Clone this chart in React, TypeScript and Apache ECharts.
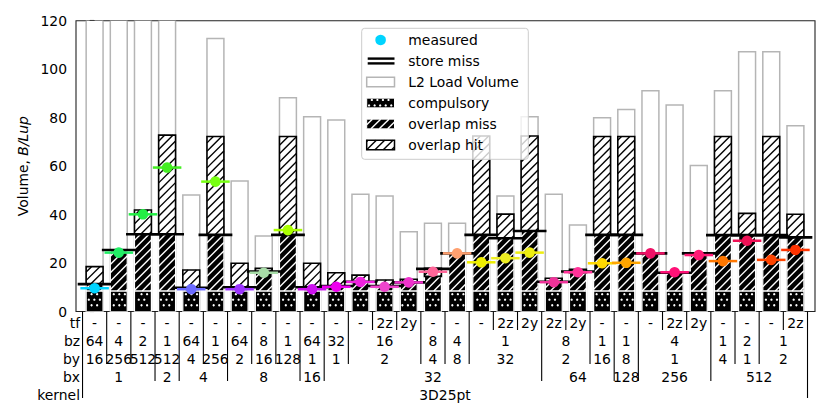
import React, { useEffect, useRef } from "react";
import * as echarts from "echarts";

// ---------- data ----------
const kernelName = "3D25pt";
const rowLabels = ["tf", "bz", "by", "bx", "kernel"];
const tfValues = ["-", "-", "-", "-", "-", "-", "-", "-", "-", "-", "-", "-", "2z", "2y", "-", "-", "-", "2z", "2y", "2z", "2y", "-", "-", "-", "2z", "2y", "-", "-", "-", "2z"];
const bzValues = [64, 4, 2, 1, 64, 1, 64, 8, 1, 64, 32, 16, 16, 16, 8, 4, 1, 1, 1, 8, 8, 1, 1, 4, 4, 4, 1, 2, 1, 1];
const byValues = [16, 256, 512, 512, 4, 256, 2, 16, 128, 1, 1, 2, 2, 2, 4, 8, 32, 32, 32, 2, 2, 16, 8, 1, 1, 1, 4, 1, 2, 2];
const bxValues = [1, 1, 1, 2, 4, 4, 8, 8, 8, 16, 32, 32, 32, 32, 32, 32, 32, 32, 32, 64, 64, 64, 128, 256, 256, 256, 512, 512, 512, 512];

const l2LoadVolume = [140, 140, 140, 140, 48.1, 112.7, 53.9, 31.2, 88.2, 80.4, 79, 48.4, 47.7, 32.9, 36.4, 36.4, 72, 47.7, 80.4, 48.4, 35.7, 80, 83.4, 91.1, 85.2, 60.2, 91.1, 107.2, 107.2, 76.7];
const compulsory = [8.5, 8.5, 8.5, 8.5, 8.5, 8.5, 8.5, 8.5, 8.5, 8.5, 8.5, 8.5, 8.5, 8.5, 8.5, 8.5, 8.5, 8.5, 8.5, 8.5, 8.5, 8.5, 8.5, 8.5, 8.5, 8.5, 8.5, 8.5, 8.5, 8.5];
const overlapMiss = [2.8, 16.5, 23.4, 23.4, 1.3, 23.1, 1.5, 7.5, 23.1, 1.5, 2, 3.8, 2, 3.5, 6, 15.5, 23.1, 21.7, 24.7, 3.8, 7.5, 23.1, 23.1, 15.5, 7.5, 15, 23, 23, 23, 22.1];
const overlapHit = [7.2, 0, 10, 40.9, 7.3, 40.6, 9.9, 1.8, 40.6, 9.9, 5.5, 2.7, 2.5, 1.3, 3.3, 0, 40.8, 10, 39.2, 1.4, 1.4, 40.6, 40.6, 0, 0, 0, 40.7, 9, 40.7, 9.5];
const storeMiss = [11.3, 25.4, 31.9, 31.9, 9.8, 31.6, 10, 16.5, 31.6, 10, 10.5, 12.3, 10.5, 12, 17.6, 24, 31.6, 30.2, 33.2, 12.3, 16.5, 31.6, 31.6, 24, 16, 24, 31.5, 31.5, 31.5, 30.6];
const measured = [9.6, 24.3, 40.1, 59.4, 9.2, 53.6, 9.2, 16, 33.6, 9.2, 10.2, 12.2, 10.2, 12, 16.4, 24, 20.3, 22, 24.3, 12.1, 16.2, 19.9, 20.1, 24, 16.2, 23.3, 20.8, 29.2, 21.3, 25.4];
const measuredColors = ["#00d4ff", "#22ee66", "#22ee44", "#44ee22", "#6a6aff", "#77ff11", "#9b33ff", "#a8dca8", "#aaff00", "#cc11ee", "#ee00ee", "#ee22dd", "#ee44cc", "#ee33cc", "#ff6699", "#ffa070", "#eeee00", "#eeee22", "#eeee11", "#ee3399", "#ff3399", "#ffd700", "#ffa500", "#ee1166", "#ff1177", "#ff1a75", "#ff7700", "#ee1155", "#ff4400", "#ff3300"];

// ---------- style constants ----------
const FONT = "DejaVu Sans";
const FS = 13.9;
const HATCH = 8.33;
const DOT = 5.55;
const BAR_HALF = 0.35;
const STORE_HALF = 0.7;
const MEAS_HALF = 0.59;
const X_MIN = -0.77;
const X_MAX = 29.81;
const LEGEND_Z = 100;

// ---------- helpers ----------
function hatchEls(x0: number, y0: number, x1: number, y1: number, color: string, z?: number) {
  const els: any[] = [];
  const cMin = x0 + y0;
  const cMax = x1 + y1;
  for (let k = Math.ceil(cMin / HATCH); k * HATCH <= cMax; k++) {
    const c = k * HATCH;
    const xa = Math.max(x0, c - y1);
    const xb = Math.min(x1, c - y0);
    if (xb - xa > 0.3) {
      const el: any = {
        type: "line",
        silent: true,
        shape: { x1: xa, y1: c - xa, x2: xb, y2: c - xb },
        style: { stroke: color, lineWidth: 1.39, lineCap: "butt" },
      };
      if (z !== undefined) el.z = z;
      els.push(el);
    }
  }
  return els;
}

function dotEls(x0: number, y0: number, x1: number, y1: number, z?: number) {
  const els: any[] = [];
  const r = 1.15;
  for (let row = Math.ceil((y0 + r + 0.6) / DOT); row * DOT <= y1 - r - 0.6; row++) {
    const yy = row * DOT;
    const off = Math.abs(row) % 2 === 0 ? 0 : DOT / 2;
    for (let col = Math.ceil((x0 + r + 0.6 - off) / DOT); col * DOT + off <= x1 - r - 0.6; col++) {
      const el: any = { type: "circle", silent: true, shape: { cx: col * DOT + off, cy: yy, r }, style: { fill: "#fff" } };
      if (z !== undefined) el.z = z;
      els.push(el);
    }
  }
  return els;
}

function rowKey(r: number, i: number) {
  const rows: any[][] = [tfValues, bzValues, byValues, bxValues];
  return rows.slice(r).map((a) => a[i]).join("|");
}

const barCount = tfValues.length;
const barIndex = tfValues.map((_, i) => i);

type Cell = { x: number; row: number; label: string; rowLabel?: boolean };
const cells: Cell[] = [];
{
  const rows: any[][] = [tfValues, bzValues, byValues, bxValues];
  for (let r = 0; r < 4; r++) {
    let start = 0;
    for (let i = 1; i <= barCount; i++) {
      if (i === barCount || rowKey(r, i) !== rowKey(r, start)) {
        cells.push({ x: (start + i - 1) / 2, row: r, label: String(rows[r][start]) });
        start = i;
      }
    }
  }
  cells.push({ x: (barCount - 1) / 2, row: 4, label: kernelName });
  rowLabels.forEach((l, r) => cells.push({ x: -0.5, row: r, label: l, rowLabel: true }));
}

const boundaries: { x: number; depth: number }[] = [];
for (let i = 0; i <= barCount; i++) {
  let depth = 4;
  if (i > 0 && i < barCount) {
    depth = 0;
    for (let r = 0; r < 4; r++) if (rowKey(r, i) !== rowKey(r, i - 1)) depth = r;
  }
  boundaries.push({ x: i - 0.5, depth });
}

// ---------- legend ----------
function buildLegend() {
  const Z = LEGEND_Z;
  const bx = 361.7, by = 28.3, bw = 166.6, bh = 131;
  const ix0 = 366.7, iw = 27.8, ih = 9.7, tx = 408.3;
  const rowY = (k: number) => 40 + 21 * k;
  const ch: any[] = [];
  ch.push({ type: "rect", z: Z, shape: { x: bx, y: by, width: bw, height: bh, r: 3 }, style: { fill: "rgba(255,255,255,0.8)", stroke: "#cccccc", lineWidth: 1 } });
  const names = ["measured", "store miss", "L2 Load Volume", "compulsory", "overlap miss", "overlap hit"];
  ch.push({ type: "circle", z: Z + 1, shape: { cx: ix0 + iw / 2, cy: rowY(0), r: 5.3 }, style: { fill: measuredColors[0] } });
  ch.push({ type: "line", z: Z + 1, shape: { x1: ix0 + 1, y1: rowY(1) - 2.4, x2: ix0 + iw, y2: rowY(1) - 2.4 }, style: { stroke: "#000", lineWidth: 2.4 } });
  ch.push({ type: "line", z: Z + 1, shape: { x1: ix0 + 1, y1: rowY(1) + 2.4, x2: ix0 + iw, y2: rowY(1) + 2.4 }, style: { stroke: "#000", lineWidth: 2.4 } });
  let y0 = rowY(2) - ih / 2;
  ch.push({ type: "rect", z: Z + 1, shape: { x: ix0, y: y0, width: iw, height: ih }, style: { fill: "#fff", stroke: "#b5b5b5", lineWidth: 1.5 } });
  y0 = rowY(3) - ih / 2;
  ch.push({ type: "rect", z: Z + 1, shape: { x: ix0, y: y0, width: iw, height: ih }, style: { fill: "#000", stroke: "#fff", lineWidth: 1 } });
  ch.push(...dotEls(ix0, y0, ix0 + iw, y0 + ih, Z + 2));
  y0 = rowY(4) - ih / 2;
  ch.push({ type: "rect", z: Z + 1, shape: { x: ix0, y: y0, width: iw, height: ih }, style: { fill: "#000", stroke: "#fff", lineWidth: 1 } });
  ch.push(...hatchEls(ix0, y0, ix0 + iw, y0 + ih, "#fff", Z + 2));
  y0 = rowY(5) - ih / 2;
  ch.push({ type: "rect", z: Z + 1, shape: { x: ix0, y: y0, width: iw, height: ih }, style: { fill: "#fff" } });
  ch.push(...hatchEls(ix0, y0, ix0 + iw, y0 + ih, "#000", Z + 2));
  ch.push({ type: "rect", z: Z + 3, shape: { x: ix0, y: y0, width: iw, height: ih }, style: { fill: "none", stroke: "#000", lineWidth: 1.5 } });
  names.forEach((n, k) => {
    ch.push({ type: "text", z: Z + 1, x: tx, y: rowY(k), style: { text: n, fill: "#000", font: `${FS}px "${FONT}"`, verticalAlign: "middle", align: "left" } });
  });
  return ch.map((el) => ({ ...el, silent: true }));
}

// ---------- option ----------
function buildOption(): any {
  return {
    animation: false,
    textStyle: { fontFamily: FONT },
    grid: { left: 76, top: 20.7, width: 739, height: 290.8, show: true, borderColor: "#222", borderWidth: 1.1, backgroundColor: "transparent" },
    xAxis: { type: "value", min: X_MIN, max: X_MAX, show: false },
    yAxis: {
      type: "value",
      min: 0,
      max: 120,
      interval: 20,
      axisLine: { show: false },
      axisTick: { show: true, length: 5, lineStyle: { color: "#000", width: 1.1 } },
      splitLine: { show: false },
      axisLabel: { color: "#000", fontSize: FS, fontFamily: FONT, margin: 9 },
      name: "{a|Volume, }{b|B/Lup}",
      nameLocation: "middle",
      nameRotate: 90,
      nameGap: 45,
      nameTextStyle: {
        color: "#000",
        fontSize: FS,
        fontFamily: FONT,
        rich: {
          a: { color: "#000", fontSize: FS, fontFamily: FONT },
          b: { color: "#000", fontSize: FS, fontFamily: FONT, fontStyle: "italic" },
        },
      },
    },
    graphic: { elements: buildLegend() },
    series: [
      {
        name: "L2 Load Volume",
        type: "custom",
        clip: true,
        silent: true,
        data: barIndex.map((i) => [i, l2LoadVolume[i]]),
        renderItem: (params: any, api: any) => {
          const i = params.dataIndex;
          const l = api.coord([i - BAR_HALF, 0])[0];
          const r = api.coord([i + BAR_HALF, 0])[0];
          const yb = api.coord([i, 0])[1];
          const yt = api.coord([i, l2LoadVolume[i]])[1];
          return { type: "rect", shape: { x: l, y: yt, width: r - l, height: yb - yt }, style: { fill: "#fff", stroke: "#b5b5b5", lineWidth: 1.5 } };
        },
      },
      {
        name: "stack",
        type: "custom",
        clip: true,
        silent: true,
        data: barIndex.map((i) => [i, compulsory[i] + overlapMiss[i] + overlapHit[i]]),
        renderItem: (params: any, api: any) => {
          const i = params.dataIndex;
          const c = compulsory[i], m = overlapMiss[i], h = overlapHit[i];
          const l = api.coord([i - BAR_HALF, 0])[0];
          const r = api.coord([i + BAR_HALF, 0])[0];
          const yb = api.coord([i, 0])[1];
          const yc = api.coord([i, c])[1];
          const ym = api.coord([i, c + m])[1];
          const yh = api.coord([i, c + m + h])[1];
          const ch: any[] = [];
          ch.push({ type: "rect", shape: { x: l, y: yc, width: r - l, height: yb - yc }, style: { fill: "#000", stroke: "#fff", lineWidth: 1.2 } });
          ch.push(...dotEls(l, yc, r, yb));
          if (m > 0) {
            ch.push({ type: "rect", shape: { x: l, y: ym, width: r - l, height: yc - ym }, style: { fill: "#000" } });
            ch.push(...hatchEls(l, ym, r, yc, "#fff"));
            ch.push({ type: "rect", shape: { x: l, y: ym, width: r - l, height: yc - ym }, style: { fill: "none", stroke: "#fff", lineWidth: 1.2 } });
          }
          if (h > 0) {
            ch.push({ type: "rect", shape: { x: l, y: yh, width: r - l, height: ym - yh }, style: { fill: "#fff" } });
            ch.push(...hatchEls(l, yh, r, ym, "#000"));
            ch.push({ type: "rect", shape: { x: l, y: yh, width: r - l, height: ym - yh }, style: { fill: "none", stroke: "#000", lineWidth: 1.6 } });
          }
          return { type: "group", children: ch };
        },
      },
      {
        name: "store miss",
        type: "custom",
        clip: true,
        silent: true,
        data: barIndex.map((i) => [i, storeMiss[i]]),
        renderItem: (params: any, api: any) => {
          const i = params.dataIndex;
          const p0 = api.coord([i - STORE_HALF, storeMiss[i]]);
          const p1 = api.coord([i + STORE_HALF, storeMiss[i]]);
          return { type: "line", shape: { x1: p0[0], y1: p0[1], x2: p1[0], y2: p1[1] }, style: { stroke: "#000", lineWidth: 2.6 } };
        },
      },
      {
        name: "measured",
        type: "custom",
        clip: false,
        silent: true,
        data: barIndex.map((i) => [i, measured[i]]),
        renderItem: (params: any, api: any) => {
          const i = params.dataIndex;
          const col = measuredColors[i];
          const p0 = api.coord([i - MEAS_HALF, measured[i]]);
          const p1 = api.coord([i + MEAS_HALF, measured[i]]);
          const pc = api.coord([i, measured[i]]);
          return {
            type: "group",
            children: [
              { type: "line", shape: { x1: p0[0], y1: p0[1], x2: p1[0], y2: p1[1] }, style: { stroke: col, lineWidth: 2.5 } },
              { type: "circle", shape: { cx: pc[0], cy: pc[1], r: 5.3 }, style: { fill: col } },
            ],
          };
        },
      },
      {
        name: "table lines",
        type: "custom",
        clip: false,
        silent: true,
        data: boundaries.map((b) => [b.x, 0]),
        renderItem: (params: any, api: any) => {
          const b = boundaries[params.dataIndex];
          const p = api.coord([b.x, 0]);
          return { type: "line", shape: { x1: p[0], y1: p[1], x2: p[0], y2: p[1] + 18.5 + 17 * b.depth }, style: { stroke: "#000", lineWidth: 1.1 } };
        },
      },
      {
        name: "table cells",
        type: "custom",
        clip: false,
        silent: true,
        data: cells.map((c) => [c.x, 0]),
        renderItem: (params: any, api: any) => {
          const c = cells[params.dataIndex];
          const p = api.coord([c.x, 0]);
          const y = p[1] + 11.6 + 18.08 * c.row;
          return {
            type: "text",
            x: c.rowLabel ? p[0] - 2.5 : p[0],
            y,
            style: { text: c.label, fill: "#000", font: `${FS}px "${FONT}"`, align: c.rowLabel ? "right" : "center", verticalAlign: "middle" },
          };
        },
      },
    ],
  };
}

export default function App() {
  const ref = useRef<HTMLDivElement>(null);
  useEffect(() => {
    if (!ref.current) return;
    const chart = echarts.init(ref.current, null, { renderer: "svg" });
    chart.setOption(buildOption());
    return () => chart.dispose();
  }, []);
  return <div ref={ref} style={{ position: "fixed", left: 0, top: 0, width: 830, height: 415, background: "#fff" }} />;
}
